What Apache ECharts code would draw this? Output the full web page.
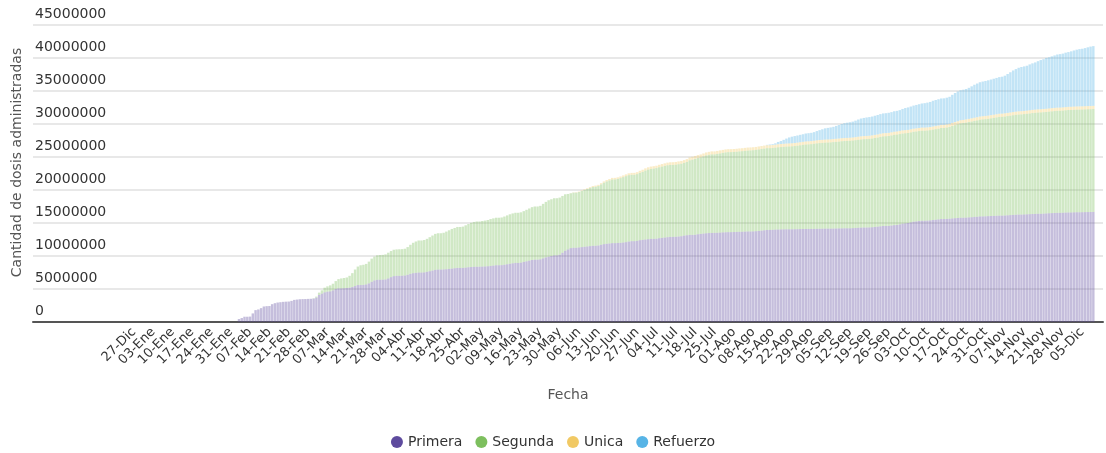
<!DOCTYPE html>
<html>
<head>
<meta charset="utf-8">
<script src="https://cdn.jsdelivr.net/npm/echarts@6/dist/echarts.min.js"></script>
<style>
html,body{margin:0;padding:0;background:#fff;}
#chart{width:1106px;height:453px;}
</style>
</head>
<body>
<div id="chart"></div>
<script>
// Axis date range (daily categories)
var axisStart = '2020-11-21';
var axisEnd = '2021-12-12';
var firstLabelDate = '2020-12-27';
var lastLabelDate = '2021-12-05';
var monthNames = ['Ene','Feb','Mar','Abr','May','Jun','Jul','Ago','Sep','Oct','Nov','Dic'];
var seriesNames = ['Primera','Segunda','Unica','Refuerzo'];
var UNIT = 10000; // values below are in units of 10 000 doses

// Primera: daily cumulative, from 2021-02-03
var primeraStart = '2021-02-03';
var primera = [
45,60,80,80,82,130,180,
190,210,235,240,242,270,285,
295,300,305,308,310,320,335,
340,345,347,348,350,352,355,
370,410,430,450,460,465,480,
500,510,510,512,515,520,530,
545,560,560,562,570,585,610,
630,640,640,642,645,660,680,
695,700,700,702,705,715,730,
740,745,750,750,752,760,770,
780,790,795,795,797,800,805,
810,815,820,820,820,825,830,
833,836,838,838,840,842,845,
850,855,860,860,862,868,875,
882,890,895,895,900,910,920,
930,940,945,945,950,965,980,
990,1000,1010,1010,1020,1050,1080,
1100,1120,1125,1125,1130,1135,1140,
1145,1150,1155,1155,1160,1170,1180,
1185,1190,1195,1195,1198,1200,1205,
1210,1220,1225,1225,1230,1240,1245,
1250,1255,1260,1260,1262,1270,1275,
1280,1285,1290,1290,1292,1296,1300,
1310,1315,1320,1320,1322,1330,1335,
1340,1345,1348,1350,1350,1352,1355,
1358,1360,1362,1362,1363,1365,1367,
1368,1370,1372,1372,1373,1376,1380,
1385,1390,1395,1395,1397,1400,1402,
1403,1404,1405,1405,1405,1406,1407,
1408,1409,1410,1410,1410,1411,1412,
1413,1414,1415,1415,1415,1416,1417,
1418,1419,1420,1420,1420,1422,1425,
1428,1430,1432,1432,1433,1436,1440,
1445,1450,1455,1455,1457,1462,1468,
1470,1480,1490,1495,1500,1510,1520,
1525,1530,1535,1535,1537,1540,1545,
1550,1555,1560,1560,1562,1565,1570,
1573,1576,1580,1580,1582,1585,1588,
1592,1595,1600,1600,1602,1604,1606,
1608,1610,1612,1612,1614,1617,1620,
1623,1626,1628,1628,1630,1632,1634,
1636,1638,1640,1640,1642,1645,1648,
1650,1652,1654,1654,1656,1658,1660,
1660,1662,1663,1663,1664,1665,1666,
1667,1668
];

// Segunda: daily cumulative, from 2021-02-03
var segundaStart = '2021-02-03';
var segunda = [
0,0,0,0,0,0,0,
0,0,0,0,0,0,0,
0,0,0,0,0,0,0,
0,0,0,0,0,0,5,
15,35,50,70,80,90,100,
120,140,150,155,160,180,210,
250,280,300,305,310,330,350,
360,370,375,375,380,390,395,
400,400,402,402,405,420,440,
460,475,485,485,490,500,515,
530,545,550,550,555,570,585,
600,610,620,620,625,640,655,
670,680,685,685,690,695,700,
710,715,720,720,722,730,740,
750,755,760,760,762,770,780,
790,800,805,805,810,825,840,
855,860,865,865,865,860,855,
840,830,835,835,840,850,860,
870,880,890,895,900,915,930,
945,955,965,965,970,980,990,
1000,1005,1005,1005,1010,1020,1030,
1045,1055,1060,1065,1070,1075,1080,
1085,1090,1090,1090,1092,1095,1098,
1100,1110,1130,1140,1150,1155,1160,
1170,1180,1185,1190,1190,1195,1200,
1205,1210,1212,1212,1213,1215,1218,
1220,1223,1226,1228,1230,1232,1235,
1237,1238,1239,1239,1240,1242,1245,
1248,1250,1253,1255,1257,1260,1265,
1270,1275,1280,1282,1285,1290,1295,
1298,1300,1303,1305,1307,1310,1313,
1316,1320,1322,1324,1326,1328,1330,
1333,1336,1338,1340,1342,1345,1348,
1350,1355,1358,1360,1362,1365,1368,
1370,1368,1366,1365,1364,1363,1362,
1362,1363,1364,1364,1365,1367,1370,
1372,1375,1380,1380,1385,1390,1400,
1410,1420,1430,1435,1440,1445,1450,
1455,1460,1465,1470,1472,1475,1480,
1485,1490,1495,1497,1500,1503,1506,
1510,1513,1516,1518,1520,1523,1526,
1530,1532,1534,1536,1537,1538,1540,
1542,1544,1546,1547,1548,1550,1552,
1553,1554,1555,1556,1556,1557,1558,
1558,1559
];

// Unica: daily cumulative, from 2021-06-03
var unicaStart = '2021-06-03';
var unica = [
2,4,6,7,8,10,12,
14,16,17,18,19,20,21,
22,23,24,24,25,26,27,
28,29,30,30,31,32,33,
34,35,36,36,37,38,39,
40,40,41,41,42,42,43,
43,43,44,44,44,44,44,
44,45,45,45,45,45,45,
45,45,45,45,45,45,45,
45,45,45,45,45,45,45,
45,45,45,45,45,46,46,
46,46,46,46,46,46,46,
46,46,46,46,46,46,46,
46,46,46,46,46,46,46,
46,46,46,46,46,46,47,
47,47,47,47,47,47,47,
47,47,47,47,47,47,47,
47,47,47,47,47,47,47,
47,47,47,47,47,47,47,
47,47,47,47,47,47,47,
47,47,47,48,48,48,48,
48,48,48,48,48,48,48,
48,48,48,48,48,48,48,
48,48,48,48,48,48,48,
48,48,48,48,48,48,48,
48,48,48,48,48,48,48,
48,48,48,48,48,48,48,
48
];

// Refuerzo: daily cumulative, from 2021-08-13
var refuerzoStart = '2021-08-13';
var refuerzo = [
5,10,12,20,35,45,60,
75,90,100,105,108,112,115,
120,123,125,130,140,150,160,
170,175,180,185,195,205,215,
225,230,235,240,250,260,270,
275,280,283,285,290,295,298,
300,302,304,306,310,312,315,
325,335,340,345,350,355,360,
365,370,375,380,390,395,398,
400,402,405,410,425,440,450,
455,458,460,470,485,500,510,
520,525,530,535,540,545,550,
555,560,570,590,610,630,645,
660,670,675,680,695,705,715,
730,745,755,770,775,785,795,
805,810,815,825,830,840,850,
860,868,872,880,890,900,905
];

var colors = ['#5e4b9e', '#7dbf5e', '#f1c964', '#57b4e6'];

// ---- build ----
function parseDay(s){ var p = s.split('-'); return Date.UTC(+p[0], +p[1]-1, +p[2]); }
var DAY = 86400000;
var t0 = parseDay(axisStart), t1 = parseDay(axisEnd);
var categories = [];
for (var t = t0; t <= t1; t += DAY) {
  var d = new Date(t);
  var dd = d.getUTCDate();
  categories.push((dd < 10 ? '0' : '') + dd + '-' + monthNames[d.getUTCMonth()]);
}
var N = categories.length;
var firstLabelIdx = Math.round((parseDay(firstLabelDate) - t0) / DAY);
var lastLabelIdx = Math.round((parseDay(lastLabelDate) - t0) / DAY);

function place(values, startStr) {
  var out = new Array(N).fill(null);
  var off = Math.round((parseDay(startStr) - t0) / DAY);
  for (var i = 0; i < values.length; i++) {
    if (off + i < N) out[off + i] = values[i] * UNIT;
  }
  return out;
}
var seriesData = [
  place(primera, primeraStart),
  place(segunda, segundaStart),
  place(unica, unicaStart),
  place(refuerzo, refuerzoStart)
];

var FONT = 'DejaVu Sans';
var chart = echarts.init(document.getElementById('chart'), null, {renderer: 'canvas'});
chart.setOption({
  animation: false,
  color: colors,
  textStyle: {fontFamily: FONT},
  grid: {left: 33, right: 3, top: 25, bottom: 131, containLabel: false},
  legend: {
    data: seriesNames,
    top: 430,
    left: 'center',
    icon: 'circle',
    itemWidth: 12,
    itemHeight: 12,
    itemGap: 13,
    itemStyle: {opacity: 1},
    textStyle: {fontFamily: FONT, fontSize: 14, color: '#333'}
  },
  xAxis: {
    type: 'category',
    data: categories,
    boundaryGap: true,
    axisLine: {lineStyle: {color: '#555', width: 2}},
    axisTick: {show: false},
    axisLabel: {
      rotate: 45,
      margin: 8,
      fontSize: 13,
      color: '#333',
      fontFamily: FONT,
      interval: function (idx) {
        return idx >= firstLabelIdx && idx <= lastLabelIdx && (idx - firstLabelIdx) % 7 === 0;
      }
    },
    name: 'Fecha',
    nameLocation: 'middle',
    nameGap: 66,
    nameTextStyle: {fontFamily: FONT, fontSize: 14, color: '#555'}
  },
  yAxis: {
    type: 'value',
    min: 0,
    max: 45000000,
    interval: 5000000,
    axisLine: {show: false},
    axisTick: {show: false},
    splitLine: {lineStyle: {color: '#e8e8e8', width: 2}},
    axisLabel: {
      inside: true,
      margin: 2,
      verticalAlign: 'bottom',
      padding: [0, 0, 4, 0],
      fontSize: 14,
      color: '#333',
      fontFamily: FONT,
      formatter: function (v) { return String(v); }
    },
    name: 'Cantidad de dosis administradas',
    nameLocation: 'middle',
    nameGap: 9,
    nameRotate: 90,
    nameTextStyle: {fontFamily: FONT, fontSize: 14, color: '#555', padding: [0, 0, 0, 22]}
  },
  series: seriesNames.map(function (name, i) {
    return {
      name: name,
      type: 'bar',
      stack: 'total',
      data: seriesData[i],
      barCategoryGap: '12%',
      itemStyle: {opacity: 0.36},
      emphasis: {disabled: true}
    };
  })
});
</script>
</body>
</html>
